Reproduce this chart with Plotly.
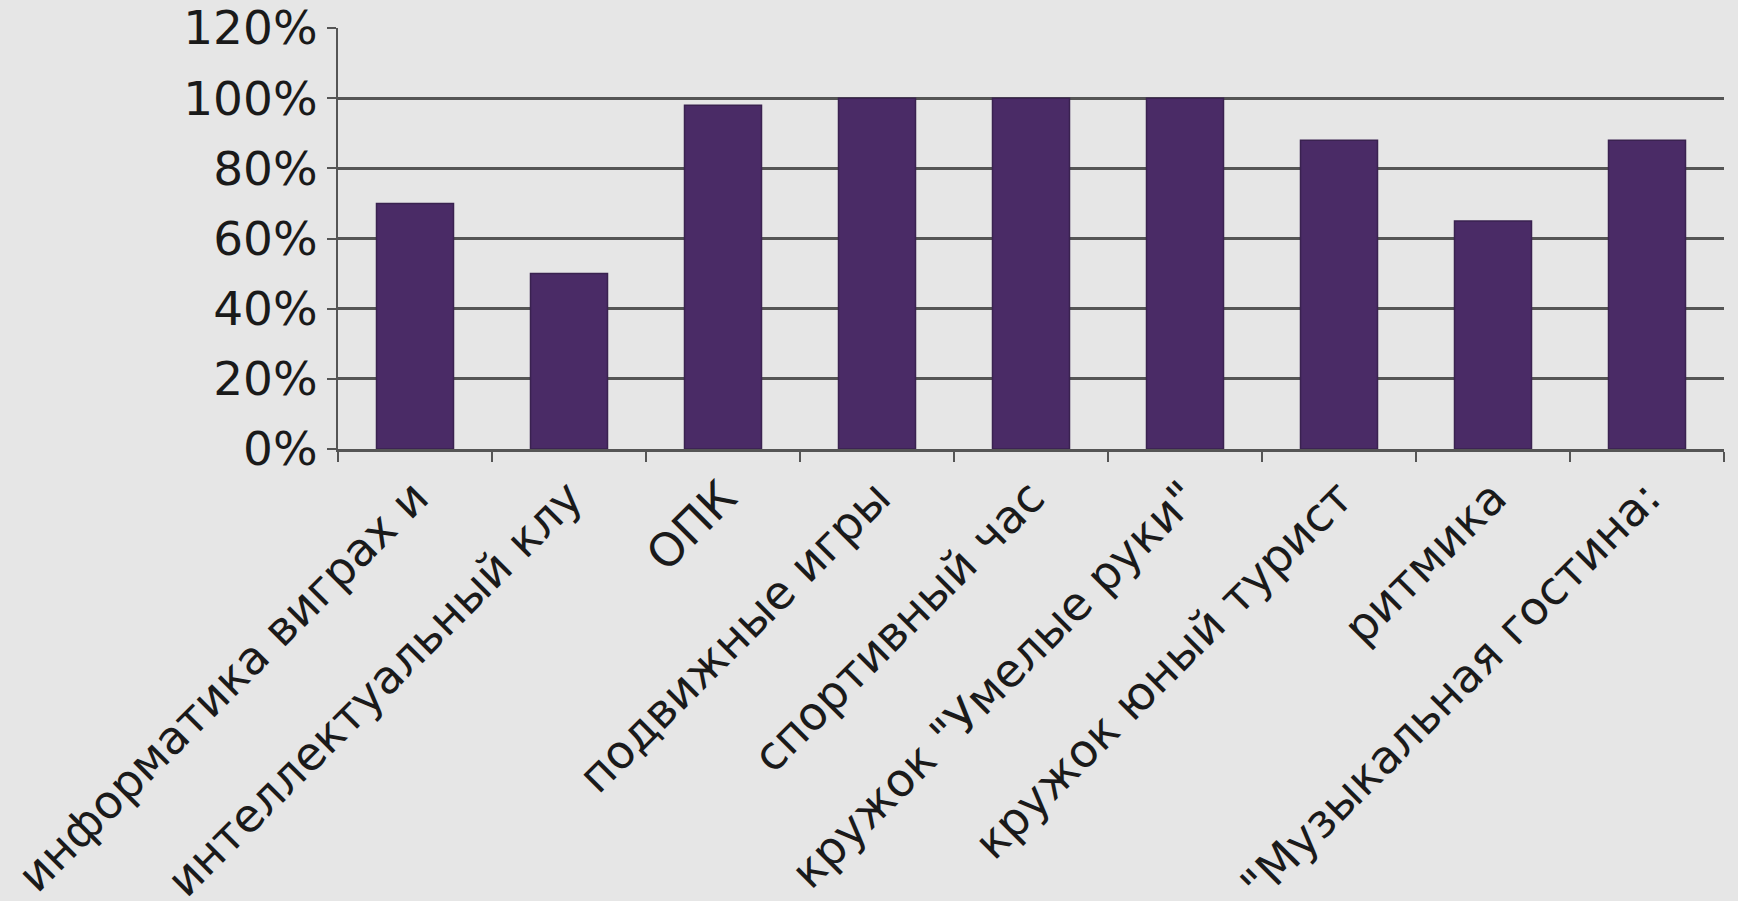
import plotly.graph_objects as go

categories = [
    "информатика виграх и",
    "интеллектуальный клу",
    "ОПК",
    "подвижные игры",
    "спортивный час",
    "кружок \"Умелые руки\"",
    "кружок юный турист",
    "ритмика",
    "\"Музыкальная гостина:",
]
values = [70, 50, 98, 100, 100, 100, 88, 65, 88]
y_ticks = [0, 20, 40, 60, 80, 100, 120]
y_tick_labels = ["0%", "20%", "40%", "60%", "80%", "100%", "120%"]

fig = go.Figure()
fig.add_trace(go.Bar(
    x=categories,
    y=values,
    width=0.5,
    marker=dict(color="#4a2b66", line=dict(color="#3a2250", width=1.5)),
    hoverinfo="x+y",
))

font_family = "DejaVu Sans, Verdana, sans-serif"
fig.update_layout(
    width=1738,
    height=901,
    margin=dict(l=338, r=14, t=28, b=452, autoexpand=False),
    paper_bgcolor="#e6e6e6",
    plot_bgcolor="#e6e6e6",
    showlegend=False,
    font=dict(family=font_family, color="#1a1a1a", size=46),
    bargap=0.5,
)
fig.update_yaxes(
    range=[0, 120],
    tickvals=y_ticks,
    ticktext=y_tick_labels,
    showgrid=True,
    gridcolor="#555555",
    gridwidth=3,
    showline=True,
    linecolor="#555555",
    linewidth=2,
    ticks="outside",
    ticklen=9,
    tickcolor="#555555",
    tickwidth=2,
    tickfont=dict(size=47, family=font_family, color="#1a1a1a"),
    zeroline=False,
    automargin=False,
)
fig.update_xaxes(
    type="category",
    tickangle=-45,
    showline=True,
    linecolor="#555555",
    linewidth=3,
    ticks="outside",
    tickson="boundaries",
    ticklen=10,
    tickcolor="#555555",
    tickwidth=2,
    tickfont=dict(size=46, family=font_family, color="#1a1a1a"),
    showgrid=False,
    automargin=False,
)

fig.write_html(
    "out.html",
    config={"displayModeBar": False},
    post_script="document.body.style.margin='0';document.body.style.background='#e6e6e6';",
)
